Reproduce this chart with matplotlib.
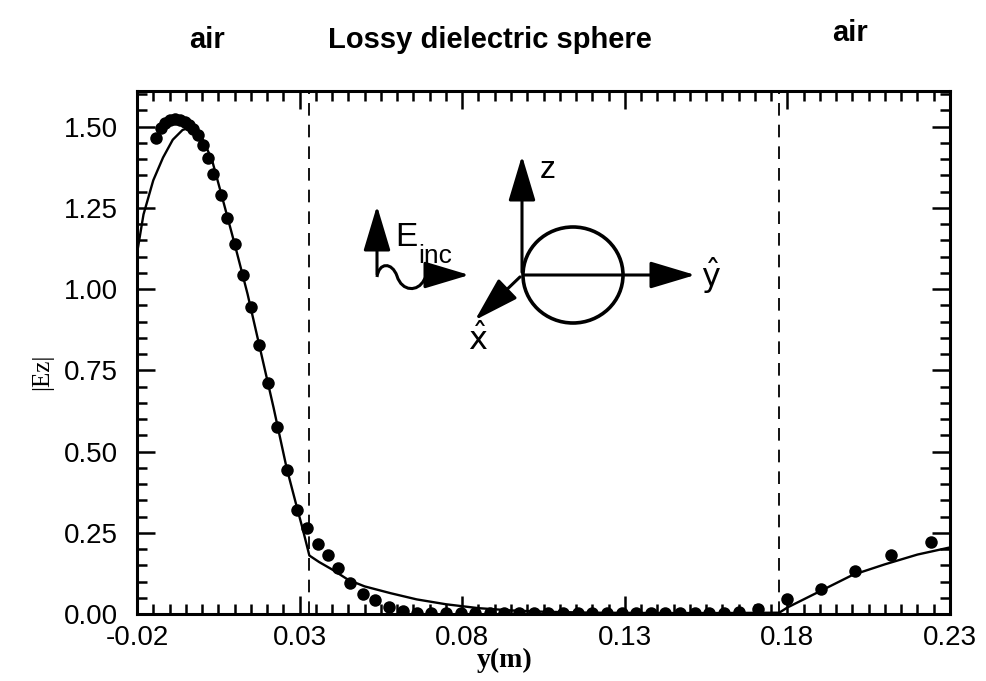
import numpy as np
import matplotlib
matplotlib.use("Agg")
import matplotlib.pyplot as plt
from matplotlib.patches import FancyArrowPatch, Ellipse, PathPatch
from matplotlib.path import Path

plt.rcParams['font.family'] = ['Liberation Sans', 'DejaVu Sans']
plt.rcParams['mathtext.fontset'] = 'dejavusans'

# |Ez| along the y axis: computed curve (solid) and measured points (dots)
line_y_m = [-0.020, -0.018, -0.015, -0.012, -0.009, -0.006, -0.004, -0.002,
            0.000, 0.003, 0.006, 0.010, 0.014, 0.018, 0.022, 0.026, 0.029,
            0.031, 0.033, 0.036, 0.040, 0.045, 0.050, 0.058, 0.066, 0.075,
            0.085, 0.095, 0.105, 0.120, 0.140, 0.160, 0.1775, 0.180, 0.190,
            0.200, 0.210, 0.220, 0.230]
line_ez = [1.11, 1.23, 1.335, 1.405, 1.46, 1.49, 1.497, 1.49,
           1.465, 1.40, 1.29, 1.14, 0.985, 0.81, 0.635, 0.45, 0.335,
           0.26, 0.18, 0.16, 0.137, 0.105, 0.085, 0.064, 0.045, 0.030,
           0.018, 0.011, 0.007, 0.004, 0.003, 0.003, 0.004, 0.02, 0.07,
           0.12, 0.153, 0.183, 0.205]

dot_y_m = [-0.0142, -0.0126, -0.0114, -0.0099, -0.0083, -0.0068, -0.0053,
           -0.0040, -0.0028, -0.0013, 0.0003, 0.0018, 0.0033, 0.0058, 0.0076,
           0.0101, 0.0126, 0.0150, 0.0175, 0.0202, 0.0230, 0.0261, 0.0291,
           0.0322, 0.0356, 0.0387, 0.0417, 0.0454, 0.0494, 0.0531, 0.0574,
           0.0617, 0.0660, 0.0705, 0.0750, 0.0795, 0.0840, 0.0885, 0.0930,
           0.0975, 0.1020, 0.1065, 0.1110, 0.1155, 0.1200, 0.1245, 0.1290,
           0.1335, 0.1380, 0.1425, 0.1470, 0.1515, 0.1560, 0.1605, 0.1650,
           0.1710, 0.1800, 0.1903, 0.2007, 0.2118, 0.2243]
dot_ez = [1.466, 1.497, 1.512, 1.522, 1.525, 1.522, 1.515,
          1.506, 1.494, 1.475, 1.444, 1.404, 1.355, 1.290, 1.219,
          1.139, 1.043, 0.944, 0.827, 0.710, 0.577, 0.444, 0.321,
          0.265, 0.216, 0.182, 0.142, 0.096, 0.062, 0.043, 0.022,
          0.009, 0.004, 0.003, 0.003, 0.003, 0.003, 0.003, 0.003,
          0.003, 0.003, 0.003, 0.003, 0.003, 0.003, 0.003, 0.003,
          0.003, 0.003, 0.003, 0.003, 0.003, 0.003, 0.004, 0.006,
          0.015, 0.046, 0.077, 0.133, 0.182, 0.222]

# sphere surfaces
boundaries = [0.033, 0.1775]

x_ticks = [-0.02, 0.03, 0.08, 0.13, 0.18, 0.23]
x_labels = ['-0.02', '0.03', '0.08', '0.13', '0.18', '0.23']
y_ticks = [0.0, 0.25, 0.5, 0.75, 1.0, 1.25, 1.5]
y_labels = ['0.00', '0.25', '0.50', '0.75', '1.00', '1.25', '1.50']

W, H = 986, 681


def fp(px, py):
    # pixel position -> figure fraction
    return (px / W, 1 - py / H)


fig = plt.figure(figsize=(W / 100, H / 100), dpi=100)
ax = fig.add_axes([137 / W, 1 - 614 / H, (950 - 137) / W, (614 - 91) / H])

for b in boundaries:
    ax.axvline(b, color='k', lw=1.3, ls=(0, (7, 5)))
ax.plot(line_y_m, line_ez, 'k-', lw=1.7)
ax.plot(dot_y_m, dot_ez, 'ko', ms=9, mew=0)

ax.set_xlim(-0.02, 0.23)
ax.set_ylim(0, 1.61)
ax.set_xticks(x_ticks)
ax.set_xticklabels(x_labels)
ax.set_yticks(y_ticks)
ax.set_yticklabels(y_labels)
ax.set_xticks(np.arange(-0.02, 0.2301, 0.005), minor=True)
ax.set_yticks(np.arange(0, 1.61, 0.05), minor=True)
ax.tick_params(which='both', direction='in', top=True, right=True,
               width=1.8, labelsize=20)
ax.tick_params(which='major', length=13)
ax.tick_params(which='minor', length=7.5)
ax.tick_params(axis='y', pad=14)
ax.tick_params(axis='x', pad=8)
for s in ax.spines.values():
    s.set_linewidth(2.2)

# axis labels
fig.text(*fp(42, 372), '|Ez|', rotation=90, ha='center', va='center',
         family='Liberation Serif', fontsize=18)
fig.text(*fp(505, 660), 'y(m)', ha='center', va='center',
         family='Liberation Serif', fontweight='bold', fontsize=20)

# region labels above the plot
fig.text(*fp(207, 40), 'air', ha='center', va='center', fontsize=21, fontweight='bold')
fig.text(*fp(490, 40), 'Lossy dielectric sphere', ha='center', va='center',
         fontsize=21, fontweight='bold')
fig.text(*fp(850, 33), 'air', ha='center', va='center', fontsize=21, fontweight='bold')

# sketch of the incident wave and the sphere
def arrow(p0, p1):
    a = FancyArrowPatch(fp(*p0), fp(*p1), transform=fig.transFigure,
                        arrowstyle='-|>,head_length=1.4,head_width=0.42',
                        mutation_scale=20, lw=2.2, color='k')
    fig.patches.append(a)


arrow((377, 277), (377, 203))
wave = Path([fp(377, 277), fp(379, 262), fp(392, 262), fp(397, 276),
             fp(402, 292), fp(418, 292), fp(424, 280), fp(427, 275)],
            [Path.MOVETO, Path.CURVE4, Path.CURVE4, Path.CURVE4,
             Path.CURVE4, Path.CURVE4, Path.CURVE4, Path.LINETO])
fig.patches.append(PathPatch(wave, transform=fig.transFigure, fill=False, lw=2.2, color='k'))
arrow((425, 275), (472, 275))
fig.text(*fp(395, 246), 'E', ha='left', va='baseline', fontsize=24)
fig.text(*fp(418, 263), 'inc', ha='left', va='baseline', fontsize=19)

arrow((522, 275), (522, 153))
arrow((522, 275), (698, 275))
arrow((522, 275), (473, 322))
fig.patches.append(Ellipse(fp(573, 275), 100 / W, 96 / H, transform=fig.transFigure,
                           fill=False, lw=2.6, color='k'))
fig.text(*fp(548, 170), 'z', ha='center', va='center', fontsize=23)
fig.text(*fp(711, 276), r'$\hat{\mathsf{y}}$', ha='center', va='center', fontsize=23)
fig.text(*fp(478, 340), r'$\hat{\mathsf{x}}$', ha='center', va='center', fontsize=23)

fig.savefig('out.png', dpi=100)
